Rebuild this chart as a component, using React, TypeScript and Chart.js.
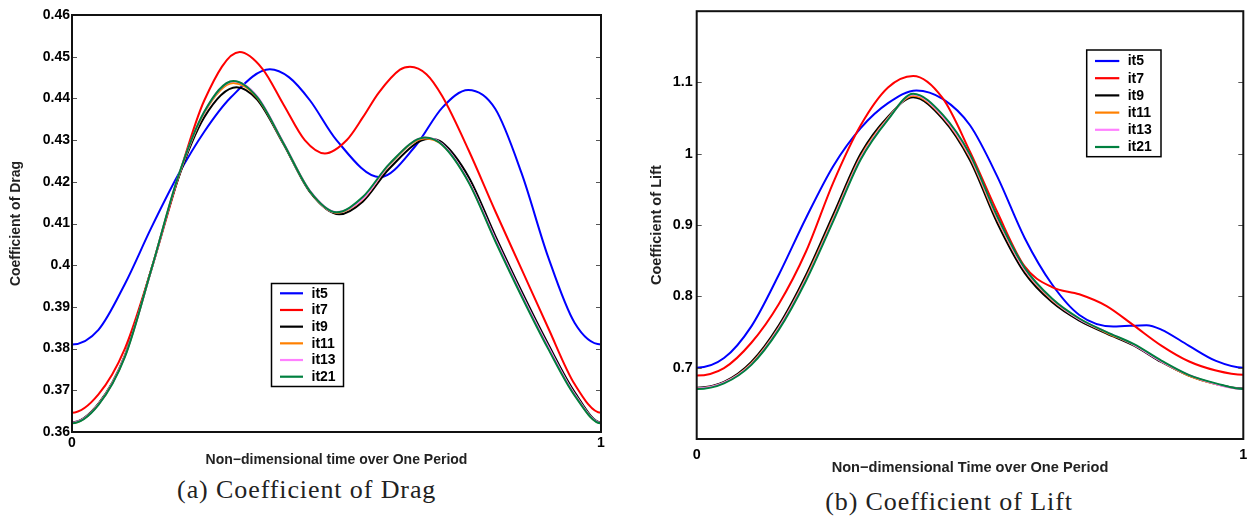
import React, { useEffect, useRef } from "react";
import { Chart, registerables } from "chart.js";

Chart.register(...registerables);

// ---------- data (t = non-dimensional time over one period) ----------
const seriesLabels = ["it5", "it7", "it9", "it11", "it13", "it21"];
const seriesColors = ["#0000ff", "#ff0000", "#000000", "#ff8000", "#ff80ff", "#00803f"];

// Coefficient of Drag
const dragIt5T = [0, 0.05, 0.1, 0.15, 0.2, 0.25, 0.3, 0.374, 0.41, 0.45, 0.5, 0.582, 0.65, 0.7, 0.749, 0.8, 0.85, 0.9, 0.95, 1];
const dragIt5 = [0.381, 0.3845, 0.3955, 0.409, 0.4215, 0.432, 0.4402, 0.447, 0.4451, 0.4395, 0.43, 0.4211, 0.4287, 0.4378, 0.442, 0.4375, 0.422, 0.402, 0.3862, 0.381];

const dragIt7T = [0, 0.05, 0.1, 0.15, 0.2, 0.25, 0.317, 0.36, 0.4, 0.44, 0.478, 0.52, 0.55, 0.58, 0.62, 0.639, 0.67, 0.7, 0.75, 0.8, 0.85, 0.9, 0.95, 1];
const dragIt7 = [0.3646, 0.369, 0.38, 0.399, 0.4205, 0.4395, 0.4511, 0.4471, 0.4385, 0.43, 0.4268, 0.4301, 0.4355, 0.4414, 0.4469, 0.4476, 0.4458, 0.4405, 0.4275, 0.413, 0.399, 0.385, 0.3715, 0.3646];

const dragIt9T = [0, 0.05, 0.1, 0.15, 0.2, 0.25, 0.311, 0.35, 0.4, 0.45, 0.505, 0.55, 0.6, 0.675, 0.7, 0.75, 0.8, 0.85, 0.9, 0.95, 1];
const dragIt9 = [0.3623, 0.3668, 0.3784, 0.399, 0.4205, 0.4355, 0.4427, 0.4397, 0.429, 0.4175, 0.4122, 0.4153, 0.4232, 0.4303, 0.4294, 0.4211, 0.4071, 0.3937, 0.3811, 0.3696, 0.3623];

const dragConvT = [0, 0.05, 0.1, 0.15, 0.2, 0.25, 0.305, 0.35, 0.4, 0.45, 0.5, 0.55, 0.6, 0.667, 0.7, 0.75, 0.8, 0.85, 0.9, 0.95, 1];
const dragIt11 = [0.3621, 0.3666, 0.3782, 0.399, 0.4208, 0.4365, 0.4437, 0.4402, 0.4292, 0.4177, 0.4126, 0.4159, 0.4241, 0.4304, 0.4289, 0.42, 0.4061, 0.3928, 0.3803, 0.369, 0.3621];
const dragIt13 = [0.3622, 0.3666, 0.3782, 0.3989, 0.4209, 0.4367, 0.4441, 0.4405, 0.4293, 0.4178, 0.4127, 0.416, 0.4242, 0.4306, 0.429, 0.4201, 0.4063, 0.393, 0.3805, 0.3691, 0.3622];
const dragIt21 = [0.3621, 0.3665, 0.378, 0.399, 0.421, 0.4368, 0.4442, 0.4403, 0.4292, 0.4177, 0.4127, 0.4164, 0.4243, 0.4306, 0.4288, 0.4198, 0.4058, 0.3925, 0.38, 0.3688, 0.3621];

// Coefficient of Lift
const liftIt5T = [0, 0.05, 0.1, 0.15, 0.2, 0.25, 0.3, 0.35, 0.402, 0.45, 0.5, 0.55, 0.6, 0.65, 0.7, 0.762, 0.823, 0.85, 0.9, 0.95, 1];
const liftIt5 = [0.7, 0.7135, 0.758, 0.83, 0.91, 0.983, 1.036, 1.071, 1.0889, 1.077, 1.04, 0.968, 0.882, 0.817, 0.774, 0.7578, 0.7597, 0.7535, 0.731, 0.7095, 0.7];

const liftT = [0, 0.05, 0.1, 0.15, 0.2, 0.25, 0.3, 0.35, 0.396, 0.45, 0.5, 0.55, 0.6, 0.65, 0.7, 0.75, 0.8, 0.85, 0.9, 0.95, 1];
const liftIt7 = [0.689, 0.6995, 0.735, 0.789, 0.863, 0.96, 1.04, 1.093, 1.1092, 1.078, 1.003, 0.918, 0.842, 0.813, 0.803, 0.7865, 0.759, 0.731, 0.709, 0.696, 0.69];
const liftIt9 = [0.672, 0.68, 0.708, 0.759, 0.83, 0.915, 1.0, 1.052, 1.0792, 1.049, 0.991, 0.903, 0.833, 0.792, 0.766, 0.748, 0.731, 0.708, 0.689, 0.677, 0.671];
const liftIt11 = [0.671, 0.679, 0.706, 0.756, 0.826, 0.91, 0.996, 1.05, 1.0815, 1.052, 0.995, 0.908, 0.837, 0.795, 0.768, 0.749, 0.732, 0.709, 0.689, 0.677, 0.67];
const liftIt13 = [0.671, 0.679, 0.705, 0.755, 0.824, 0.908, 0.994, 1.049, 1.083, 1.053, 0.997, 0.91, 0.838, 0.796, 0.768, 0.75, 0.732, 0.709, 0.69, 0.677, 0.67];
const liftIt21 = [0.67, 0.678, 0.704, 0.753, 0.822, 0.906, 0.992, 1.048, 1.0842, 1.055, 0.999, 0.912, 0.84, 0.797, 0.769, 0.75, 0.733, 0.71, 0.69, 0.678, 0.67];

const xTicks = [0, 1];
const dragYTicks = [0.36, 0.37, 0.38, 0.39, 0.4, 0.41, 0.42, 0.43, 0.44, 0.45, 0.46];
const liftYTicks = [0.7, 0.8, 0.9, 1.0, 1.1];

const dragXTitle = "Non\u2212dimensional time over One Period";
const liftXTitle = "Non\u2212dimensional Time over One Period";
const dragYTitle = "Coefficient of Drag";
const liftYTitle = "Coefficient of Lift";
const dragCaption = "(a) Coefficient of Drag";
const liftCaption = "(b) Coefficient of Lift";

// periodic signal: continue one sample beyond each end so the curve's slope at 0 and 1 is right
function periodicPoints(t: number[], v: number[]) {
  const n = t.length;
  const pts = t.map((x, i) => ({ x, y: v[i] }));
  return [{ x: t[n - 2] - 1, y: v[n - 2] }, ...pts, { x: 1 + t[1], y: v[1] }];
}

// ---------- chart ----------
type PanelProps = {
  series: [number[], number[]][];
  yMin: number;
  yMax: number;
  yTicks: number[];
  xTitle: string;
  yTitle: string;
  width: number;
  height: number;
  area: { left: number; top: number; right: number; bottom: number };
  fontSize: number;
  titleSize: number;
  yTitlePad: number;
  xTitlePad: number;
  xTickPad: number;
  yTickPad: number;
  legend: { x: number; y: number; w: number; h: number; row0: number; rowStep: number; l1: number; l2: number; tx: number; fontSize: number };
};

const fmt = (v: number) => String(Number(Number(v).toFixed(3)));

function Panel(p: PanelProps) {
  const ref = useRef<HTMLCanvasElement | null>(null);
  useEffect(() => {
    if (!ref.current) return;
    const font = (size: number) => ({ family: "'Liberation Sans', Arial, sans-serif", weight: "bold" as const, size, lineHeight: 1.2 });
    const framePlugin = {
      id: "frame",
      afterDraw(chart: any) {
        const { ctx, chartArea } = chart;
        const { left, right, top, bottom } = chartArea;
        const y = chart.scales.y;
        ctx.save();
        ctx.strokeStyle = "#555";
        ctx.lineWidth = 1.2;
        for (const v of p.yTicks) {
          const py = Math.round(y.getPixelForValue(v)) + 0.5;
          ctx.beginPath();
          ctx.moveTo(left, py);
          ctx.lineTo(left + 5, py);
          ctx.moveTo(right - 5, py);
          ctx.lineTo(right, py);
          ctx.stroke();
        }
        ctx.strokeStyle = "#111";
        ctx.lineWidth = 2;
        ctx.strokeRect(left, top, right - left, bottom - top);
        const L = p.legend;
        ctx.fillStyle = "#fff";
        ctx.fillRect(L.x, L.y, L.w, L.h);
        ctx.strokeStyle = "#000";
        ctx.lineWidth = 1.5;
        ctx.strokeRect(L.x, L.y, L.w, L.h);
        ctx.font = `bold ${L.fontSize}px 'Liberation Sans', Arial, sans-serif`;
        ctx.textBaseline = "middle";
        ctx.textAlign = "left";
        seriesLabels.forEach((lab, i) => {
          const ry = L.row0 + i * L.rowStep;
          ctx.strokeStyle = seriesColors[i];
          ctx.lineWidth = 2.2;
          ctx.beginPath();
          ctx.moveTo(L.l1, ry);
          ctx.lineTo(L.l2, ry);
          ctx.stroke();
          ctx.fillStyle = "#000";
          ctx.fillText(lab, L.tx, ry + 0.5);
        });
        ctx.restore();
      },
    };
    const chart = new Chart(ref.current, {
      type: "line",
      data: {
        datasets: p.series.map(([t, vals], i) => ({
          label: seriesLabels[i],
          data: periodicPoints(t, vals),
          borderColor: seriesColors[i],
          backgroundColor: seriesColors[i],
          borderWidth: 2,
          pointRadius: 0,
          cubicInterpolationMode: "monotone",
          fill: false,
          order: p.series.length - 1 - i,
        })),
      },
      options: {
        animation: false,
        responsive: false,
        maintainAspectRatio: false,
        events: [],
        layout: { padding: { left: 0, top: p.area.top, right: p.width - p.area.right, bottom: 0 } },
        plugins: { legend: { display: false }, tooltip: { enabled: false }, title: { display: false } },
        scales: {
          x: {
            type: "linear",
            min: 0,
            max: 1,
            afterBuildTicks: (s: any) => {
              s.ticks = xTicks.map((v) => ({ value: v }));
            },
            afterFit: (s: any) => {
              s.height = p.height - p.area.bottom;
            },
            ticks: { autoSkip: false, maxRotation: 0, padding: p.xTickPad, color: "#000", font: font(p.fontSize), callback: (v: any) => fmt(v) },
            grid: { display: false, drawTicks: false },
            border: { display: false },
            title: { display: true, text: p.xTitle, color: "#222", font: font(p.titleSize), padding: { top: 0, bottom: p.xTitlePad } },
          },
          y: {
            type: "linear",
            min: p.yMin,
            max: p.yMax,
            afterBuildTicks: (s: any) => {
              s.ticks = p.yTicks.map((v) => ({ value: v }));
            },
            afterFit: (s: any) => {
              s.width = p.area.left;
            },
            ticks: { autoSkip: false, padding: p.yTickPad, color: "#000", font: { ...font(p.fontSize), lineHeight: 1.0 }, callback: (v: any) => fmt(v) },
            grid: { display: false, drawTicks: false },
            border: { display: false },
            title: { display: true, text: p.yTitle, color: "#222", font: font(p.titleSize), padding: { top: p.yTitlePad, bottom: 0 } },
          },
        },
      },
      plugins: [framePlugin],
    } as any);
    return () => chart.destroy();
  }, []);
  return <canvas ref={ref} width={p.width} height={p.height} style={{ width: p.width, height: p.height, display: "block" }} />;
}

const captionStyle: React.CSSProperties = {
  position: "absolute",
  width: 400,
  textAlign: "center",
  fontFamily: "'Liberation Serif', 'Times New Roman', serif",
  fontSize: 26,
  lineHeight: "30px",
  letterSpacing: "0.9px",
  color: "#222",
  whiteSpace: "nowrap",
};

export default function App() {
  return (
    <div style={{ position: "absolute", left: 0, top: 0, width: 1247, height: 519, overflow: "hidden", background: "#fff" }}>
      <div style={{ position: "absolute", left: 0, top: 0 }}>
        <Panel
          series={[
            [dragIt5T, dragIt5],
            [dragIt7T, dragIt7],
            [dragIt9T, dragIt9],
            [dragConvT, dragIt11],
            [dragConvT, dragIt13],
            [dragConvT, dragIt21],
          ]}
          yMin={0.36}
          yMax={0.46}
          yTicks={dragYTicks}
          xTitle={dragXTitle}
          yTitle={dragYTitle}
          width={620}
          height={475}
          area={{ left: 72, top: 15, right: 601, bottom: 432 }}
          fontSize={14}
          titleSize={14}
          yTitlePad={8}
          xTitlePad={6.6}
          xTickPad={3}
          yTickPad={2}
          legend={{ x: 271.5, y: 283.5, w: 72, h: 103, row0: 293.3, rowStep: 16.68, l1: 280, l2: 303, tx: 311.5, fontSize: 14 }}
        />
      </div>
      <div style={{ position: "absolute", left: 630, top: 0 }}>
        <Panel
          series={[
            [liftIt5T, liftIt5],
            [liftT, liftIt7],
            [liftT, liftIt9],
            [liftT, liftIt11],
            [liftT, liftIt13],
            [liftT, liftIt21],
          ]}
          yMin={0.6}
          yMax={1.2}
          yTicks={liftYTicks}
          xTitle={liftXTitle}
          yTitle={liftYTitle}
          width={625}
          height={482}
          area={{ left: 66.7, top: 7.3, right: 613.3, bottom: 439 }}
          fontSize={14.4}
          titleSize={14.6}
          yTitlePad={18.7}
          xTitlePad={5.2}
          xTickPad={7}
          yTickPad={4}
          legend={{ x: 456.7, y: 50, w: 74.3, h: 106.7, row0: 61, rowStep: 17.2, l1: 465, l2: 489.3, tx: 497.7, fontSize: 14 }}
        />
      </div>
      <div style={{ ...captionStyle, left: 306.7 - 200, top: 490 - 15 }}>{dragCaption}</div>
      <div style={{ ...captionStyle, left: 949 - 200, top: 501.7 - 15 }}>{liftCaption}</div>
    </div>
  );
}
